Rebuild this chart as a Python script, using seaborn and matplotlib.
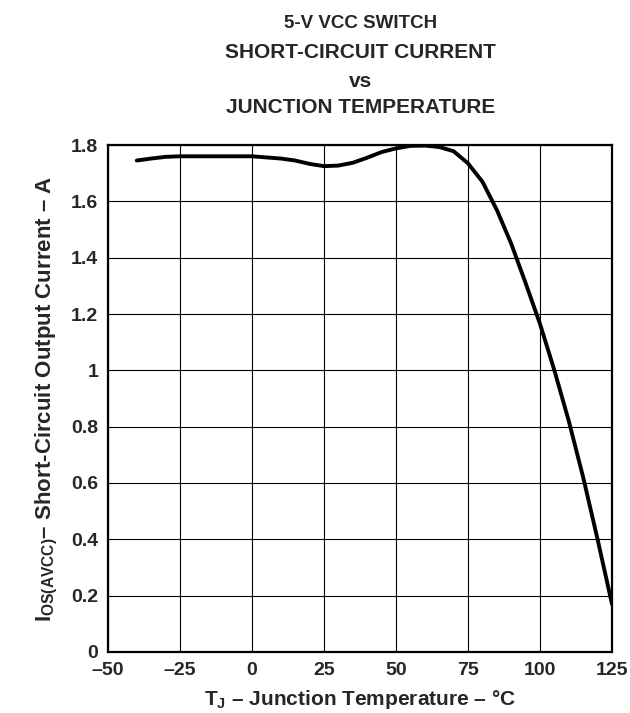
import matplotlib
matplotlib.use("Agg")
import matplotlib.pyplot as plt
import seaborn as sns
import pandas as pd

# DATA

temp_c = [-40, -35, -30, -25, -20, -10, 0, 10, 15, 20, 25, 30, 35, 40, 45, 50,
          55, 60, 65, 70, 75, 80, 85, 90, 95, 100, 105, 110, 115, 120, 125]
current_a = [1.745, 1.752, 1.758, 1.760, 1.760, 1.760, 1.760, 1.752, 1.745, 1.733, 1.725,
             1.727, 1.737, 1.755, 1.775, 1.788, 1.797, 1.798, 1.793, 1.778, 1.735,
             1.670, 1.570, 1.450, 1.310, 1.165, 1.000, 0.820, 0.620, 0.400, 0.170]

x_ticks = [-50, -25, 0, 25, 50, 75, 100, 125]
y_ticks = [0, 0.2, 0.4, 0.6, 0.8, 1.0, 1.2, 1.4, 1.6, 1.8]
x_labels = ["–50", "–25", "0", "25", "50", "75", "100", "125"]
y_labels = ["0", "0.2", "0.4", "0.6", "0.8", "1", "1.2", "1.4", "1.6", "1.8"]

df = pd.DataFrame({"temp": temp_c, "current": current_a})

# STYLE

sns.set_style("white")
plt.rcParams["font.family"] = ["Liberation Sans", "DejaVu Sans"]
plt.rcParams["mathtext.fontset"] = "custom"
plt.rcParams["mathtext.rm"] = "Liberation Sans:bold"
plt.rcParams["mathtext.it"] = "Liberation Sans:bold"
plt.rcParams["mathtext.bf"] = "Liberation Sans:bold"

fig = plt.figure(figsize=(6.3, 7.13), dpi=100)
ax = fig.add_axes([0.1714, 0.0856, 0.8, 0.711])

sns.lineplot(data=df, x="temp", y="current", ax=ax, color="black", linewidth=2.8)

ax.set_xlim(-50, 125)
ax.set_ylim(0, 1.8)
ax.set_xticks(x_ticks)
ax.set_xticklabels(x_labels, fontsize=14, fontweight="bold")
ax.set_yticks(y_ticks)
ax.set_yticklabels(y_labels, fontsize=14, fontweight="bold")
ax.tick_params(axis="x", length=0, pad=7.5)
ax.tick_params(axis="y", length=0, pad=7)

ax.grid(True, color="black", linewidth=0.8)
for s in ax.spines.values():
    s.set_visible(True)
    s.set_color("black")
    s.set_linewidth(1.6)

ax.set_xlabel(r"T$_{\rm J}$ – Junction Temperature – °C", fontsize=15, fontweight="bold", labelpad=6)
ax.set_ylabel(r"I$_{\rm OS(AVCC)}$– Short-Circuit Output Current – A", fontsize=16, fontweight="bold", labelpad=8)

# TITLE

fig.text(0.572, 0.9607, "5-V VCC SWITCH", ha="center", va="baseline", fontsize=13.5, fontweight="bold")
fig.text(0.572, 0.9187, "SHORT-CIRCUIT CURRENT", ha="center", va="baseline", fontsize=15, fontweight="bold")
fig.text(0.572, 0.878, "vs", ha="center", va="baseline", fontsize=15, fontweight="bold")
fig.text(0.572, 0.8415, "JUNCTION TEMPERATURE", ha="center", va="baseline", fontsize=15, fontweight="bold")

plt.savefig("out.png", dpi=100)
